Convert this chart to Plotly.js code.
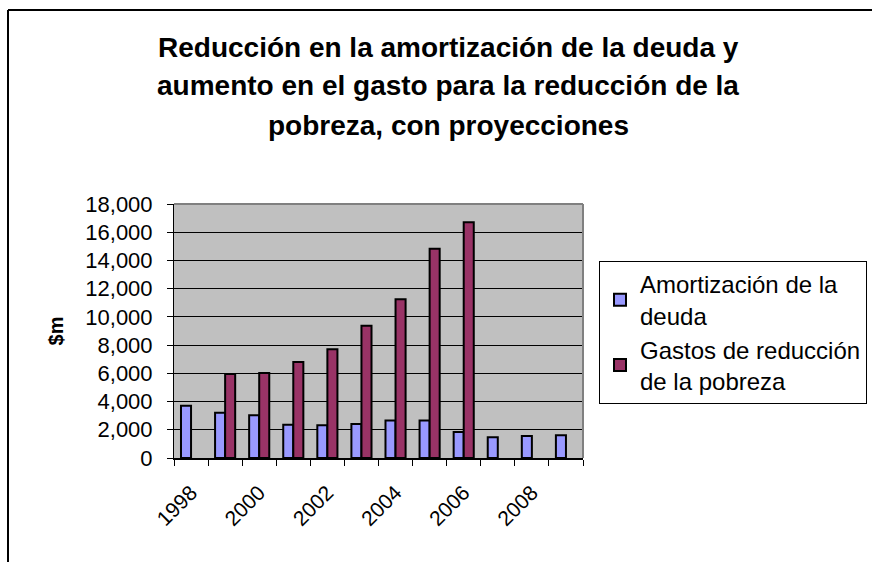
<!DOCTYPE html>
<html>
<head>
<meta charset="utf-8">
<script src="https://cdn.plot.ly/plotly-3.0.1.min.js"></script>
<style>html,body{margin:0;padding:0;background:#fff;}#chart{width:872px;height:562px;}</style>
</head>
<body>
<div id="chart"></div>
<script>
const years = ['1998','1999','2000','2001','2002','2003','2004','2005','2006','2007','2008','2009'];
const tickLabels = ['1998','','2000','','2002','','2004','','2006','','2008',''];
const amortizacion = [3700, 3200, 3030, 2360, 2320, 2410, 2650, 2650, 1840, 1470, 1560, 1610];
const gastos = [null, 5950, 6020, 6800, 7700, 9380, 11250, 14830, 16700, null, null, null];
const seriesNames = ['Amortización de la<br>deuda', 'Gastos de reducción<br>de la pobreza'];
const titleLines = ['Reducción en la amortización de la deuda y', 'aumento en el gasto para la reducción de la', 'pobreza, con proyecciones'];
const yTickVals = [0,2000,4000,6000,8000,10000,12000,14000,16000,18000];
const yTickText = ['0','2,000','4,000','6,000','8,000','10,000','12,000','14,000','16,000','18,000'];

const FONT = 'Liberation Sans, Arial, sans-serif';

const traces = [
  {type:'bar', x: years, y: amortizacion, name: seriesNames[0],
   marker:{color:'#9999FF', line:{color:'#000', width:2}}},
  {type:'bar', x: years, y: gastos, name: seriesNames[1],
   marker:{color:'#993366', line:{color:'#000', width:2}}}
];

const titleY = [47, 86, 125];
const annotations = titleLines.map((t,i)=>({
  text:'<b>'+t+'</b>', xref:'paper', yref:'paper', x:(448-174)/409, y:(458-titleY[i])/254,
  xanchor:'center', yanchor:'middle', showarrow:false,
  font:{family:FONT, size:28, color:'#000'}
}));

const layout = {
  width:872, height:562,
  margin:{l:174, r:289, t:204, b:104, pad:0, autoexpand:false},
  paper_bgcolor:'#fff', plot_bgcolor:'#C0C0C0',
  barmode:'group', bargap:0.41, bargroupgap:0,
  font:{family:FONT, color:'#000'},
  showlegend:true,
  legend:{x:(867-174)/409, y:(458-261)/254, xanchor:'right', yanchor:'top',
    bgcolor:'#fff', bordercolor:'#000', borderwidth:1,
    font:{family:FONT, size:24, color:'#000'}, itemwidth:30, tracegroupgap:0},
  xaxis:{type:'category', tickmode:'array', tickvals:years, ticktext:tickLabels,
    tickangle:-45, tickson:'boundaries', ticks:'outside', ticklen:6, tickcolor:'#000', tickwidth:1,
    ticklabelstandoff:12,
    showline:true, linecolor:'#000', linewidth:2, showgrid:false, zeroline:false,
    tickfont:{family:FONT, size:21, color:'#000'}, automargin:false},
  yaxis:{range:[0,18000], tickmode:'array', tickvals:yTickVals, ticktext:yTickText,
    ticks:'outside', ticklen:6, tickcolor:'#000', tickwidth:1, ticklabelstandoff:10,
    showline:true, linecolor:'#000', linewidth:1, showgrid:true, gridcolor:'#000', gridwidth:1,
    zeroline:false, tickfont:{family:FONT, size:22, color:'#000'}, automargin:false,
    title:{text:'<b>$m</b>', font:{family:FONT, size:20, color:'#000'}, standoff:16}},
  annotations: annotations,
  shapes:[
    {type:'line', xref:'paper', yref:'paper', x0:0, x1:1, y0:1, y1:1, line:{color:'#808080', width:2}},
    {type:'line', xref:'paper', yref:'paper', x0:1, x1:1, y0:0, y1:1, line:{color:'#808080', width:2}},
    {type:'line', xref:'paper', yref:'paper', x0:(8-174)/409, x1:(900-174)/409, y0:(458-10)/254, y1:(458-10)/254, line:{color:'#000', width:2}},
    {type:'line', xref:'paper', yref:'paper', x0:(8-174)/409, x1:(8-174)/409, y0:(458-10)/254, y1:(458-600)/254, line:{color:'#000', width:2}}
  ]
};

Plotly.newPlot('chart', traces, layout, {displayModeBar:false, staticPlot:true});
</script>
</body>
</html>
